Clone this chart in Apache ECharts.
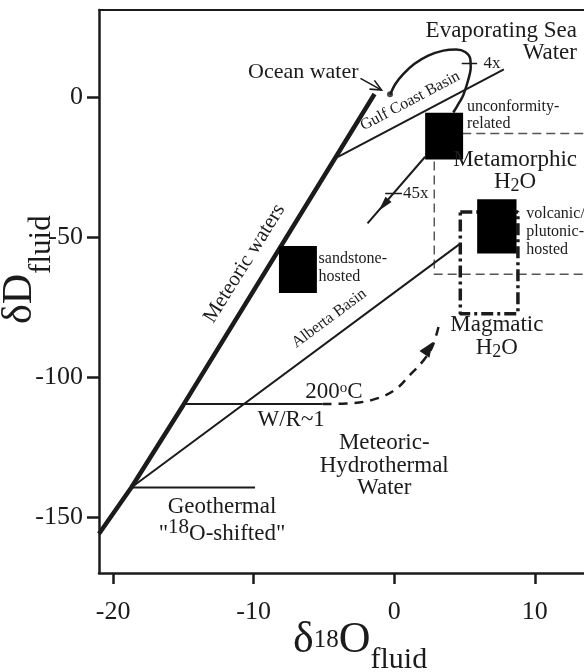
<!DOCTYPE html>
<html>
<head>
<meta charset="utf-8">
<script src="https://cdn.jsdelivr.net/npm/echarts@6/dist/echarts.min.js"></script>
<style>
  html, body { margin: 0; padding: 0; background: #fff; }
  #chart { width: 584px; height: 672px; }
</style>
</head>
<body>
<div id="chart"></div>
<script>
const ink = "#1b1b1b";
const serif = '"Liberation Serif", "DejaVu Serif", serif';

const xTicks = [-20, -10, 0, 10];
const yTicks = [-150, -100, -50, 0];

// all lines as [d18O, dD] pairs
const meteoricWaters = [[-21, -156], [-18.7, -139.5], [-15, -110], [-1.4, 1]];
const gulfCoastBasin = [[-4, -21.4], [7.8, 9.8]];
const albertaBasin = [[-18.7, -139.5], [4.7, -52.4]];
const geothermalShift = [[-18.7, -139.5], [-9.9, -139.5]];
const waterRockLine = [[-15, -109.7], [-5.1, -109.7]];
const hydrothermalTrend = [[-5.1, -109.7], [-3.4, -109.5], [-1.5, -108.1], [0, -104.8], [1.1, -99.4], [2.1, -94], [2.7, -89.3], [3.15, -82.1]];
const evaporationLoop = [[-0.28, 0.86], [0.07, 4.5], [0.64, 8.1], [1.42, 11.7], [2.42, 14.7], [3.49, 16.5], [4.41, 16.9], [5.05, 16.0], [5.41, 13.5], [5.44, 10.3], [5.26, 6.0], [4.91, 0.6], [4.48, -3.3], [4.2, -5.6]];
const oceanArrow = [[-2.4, 6.6], [-0.9, 2.4]];
const mixingArrow = [[2.2, -21.4], [-1.9, -45.2]];
const fourXMark = [[4.8, 11.9], [5.9, 11.9]];
const fortyFiveXMark = [[-0.64, -34.5], [0.55, -34.5]];
const metamorphicTop = [[2.85, -13.1], [14, -13.1]];
const metamorphicSide = [[2.85, -13.1], [2.85, -63.3], [14, -63.3]];
const magmaticBox = [[4.7, -41.1], [8.8, -41.1], [8.8, -77.4], [4.7, -77.4], [4.7, -41.1]];
const oceanWater = [[-0.3, 0.9]];
// ore fluid fields: [x0, x1, y0, y1]
const oreFields = [[2.2, 4.9, -5.7, -22.4], [5.9, 8.7, -36.6, -55.9], [-8.2, -5.5, -53.3, -70]];
// arrowheads: [tipX, tipY, tailX, tailY]
const arrowHeads = [[-0.9, 2.4, -2.4, 6.6], [-1.1, -40.7, 2.2, -21.4], [2.75, -87.5, 2.1, -92.3]];
const headSpec = [{ len: 11, half: 5, open: true }, { len: 15, half: 4 }, { len: 15, half: 6 }];

const notes = [
  { text: "Ocean water", at: [-10.4, 8.8], align: "left", size: 22 },
  { text: "Evaporating Sea\nWater", at: [13.0, 19.7], align: "right", size: 23, lh: 22 },
  { text: "4x", at: [6.35, 12], align: "left", size: 17 },
  { text: "Gulf Coast Basin", at: [1.14, -1.5], size: 16, rotate: 28 },
  { text: "unconformity-\nrelated", at: [5.17, -6.5], align: "left", size: 16, lh: 17 },
  { text: "Metamorphic\nH{sub|2}O", at: [8.6, -26.4], size: 23, lh: 22 },
  { text: "45x", at: [0.62, -34.5], align: "left", size: 17 },
  { text: "volcanic/\nplutonic-\nhosted", at: [9.39, -48.2], align: "left", size: 16, lh: 18.4 },
  { text: "sandstone-\nhosted", at: [-5.38, -61], align: "left", size: 16, lh: 18.4 },
  { text: "Meteoric waters", at: [-10.65, -59.5], size: 21, rotate: 58 },
  { text: "Alberta Basin", at: [-4.62, -79.1], size: 16, rotate: 36.6 },
  { text: "Magmatic\nH{sub|2}O", at: [7.3, -85.7], size: 23, lh: 23 },
  { text: "200{deg|o}C", at: [-6.33, -105.5], align: "left", size: 23 },
  { text: "W/R~1", at: [-7.33, -115.5], size: 23 },
  { text: "Meteoric-\nHydrothermal\nWater", at: [-0.71, -131.7], size: 23, lh: 22.5 },
  { text: 'Geothermal\n"{sup|18}O-shifted"', at: [-12.25, -151.2], size: 23, lh: 26.6 },
];

function line(data, width, extra) {
  return Object.assign({
    type: "line",
    data,
    symbol: "none",
    silent: true,
    lineStyle: { color: ink, width },
  }, extra || {});
}

function richFor(size, lh) {
  return {
    sub: { fontFamily: serif, fontSize: Math.round(size * 0.78), fill: ink, height: lh - 8, verticalAlign: "bottom" },
    sup: { fontFamily: serif, fontSize: Math.round(size * 0.9), fill: ink, height: lh - 12, verticalAlign: "top" },
    deg: { fontFamily: serif, fontSize: Math.round(size * 0.65), fill: ink, height: lh - 8, verticalAlign: "top" },
  };
}

const chart = echarts.init(document.getElementById("chart"));

chart.setOption({
  animation: false,
  backgroundColor: "#fff",
  grid: { left: 99, right: 0, top: 10, bottom: 99, outerBoundsMode: "none" },
  xAxis: [
    {
      type: "value", min: -21, max: 13.5,
      axisLine: { onZero: false, lineStyle: { color: ink, width: 2.5 } },
      axisTick: { length: 11, customValues: xTicks, lineStyle: { color: ink, width: 2.5 } },
      axisLabel: { customValues: xTicks, fontFamily: serif, fontSize: 26, color: ink, margin: 26 },
      splitLine: { show: false },
    },
    {
      type: "value", min: -21, max: 13.5, position: "top",
      axisLine: { onZero: false, lineStyle: { color: ink, width: 2 } },
      axisTick: { show: false }, axisLabel: { show: false }, splitLine: { show: false },
    },
  ],
  yAxis: {
    type: "value", min: -170, max: 31,
    axisLine: { show: true, onZero: false, lineStyle: { color: ink, width: 2.5 } },
    axisTick: { length: 12, customValues: yTicks, lineStyle: { color: ink, width: 2.5 } },
    axisLabel: { customValues: yTicks, fontFamily: serif, fontSize: 26, color: ink, margin: 16 },
    splitLine: { show: false },
  },
  series: [
    line(metamorphicTop, 1.5, { lineStyle: { color: "#555", width: 1.5, type: [9, 5] } }),
    line(metamorphicSide, 1.5, { lineStyle: { color: "#555", width: 1.5, type: [9, 5] } }),
    line(magmaticBox, 3.5, { lineStyle: { color: ink, width: 3.5, type: [12, 4, 3, 4] } }),
    line(meteoricWaters, 4.5),
    line(gulfCoastBasin, 2),
    line(albertaBasin, 2),
    line(geothermalShift, 2),
    line(waterRockLine, 2),
    line(hydrothermalTrend, 2.5, { smooth: 0.4, lineStyle: { color: ink, width: 2.5, type: [9, 7] } }),
    line(evaporationLoop, 2.5, { smooth: 0.3 }),
    line(oceanArrow, 1.6),
    line(mixingArrow, 2),
    line(fourXMark, 1.6),
    line(fortyFiveXMark, 1.6),
    {
      type: "scatter", data: oceanWater, symbol: "circle", symbolSize: 6,
      itemStyle: { color: ink }, silent: true, z: 4,
    },
    {
      type: "custom", z: 5, silent: true,
      data: oreFields,
      encode: { x: [0, 1], y: [2, 3] },
      renderItem: (params, api) => {
        const a = api.coord([api.value(0), api.value(2)]);
        const b = api.coord([api.value(1), api.value(3)]);
        return {
          type: "rect",
          shape: { x: Math.min(a[0], b[0]), y: Math.min(a[1], b[1]), width: Math.abs(b[0] - a[0]), height: Math.abs(b[1] - a[1]) },
          style: { fill: "#000" },
        };
      },
    },
    {
      type: "custom", z: 5, silent: true,
      data: arrowHeads,
      encode: { x: [0, 2], y: [1, 3] },
      renderItem: (params, api) => {
        const tip = api.coord([api.value(0), api.value(1)]);
        const tail = api.coord([api.value(2), api.value(3)]);
        const dx = tip[0] - tail[0];
        const dy = tip[1] - tail[1];
        const d = Math.hypot(dx, dy);
        const ux = dx / d, uy = dy / d;
        const spec = headSpec[params.dataIndex];
        const bx = tip[0] - ux * spec.len, by = tip[1] - uy * spec.len;
        const p1 = [bx - uy * spec.half, by + ux * spec.half];
        const p2 = [bx + uy * spec.half, by - ux * spec.half];
        if (spec.open) {
          return { type: "polyline", shape: { points: [p1, tip, p2] }, style: { stroke: ink, lineWidth: 1.6, fill: null } };
        }
        return { type: "polygon", shape: { points: [tip, p1, p2] }, style: { fill: ink } };
      },
    },
  ],
});

// text notes placed at data coordinates
const graphics = notes.map((n) => {
  const [px, py] = chart.convertToPixel({ gridIndex: 0 }, n.at);
  const lh = n.lh || Math.round(n.size * 1.2);
  return {
    type: "text", x: px, y: py, z: 10, silent: true,
    rotation: ((n.rotate || 0) * Math.PI) / 180,
    style: {
      text: n.text, fontFamily: serif, fontSize: n.size, fill: ink,
      align: n.align || "center", verticalAlign: "middle", lineHeight: lh,
      rich: richFor(n.size, lh),
    },
  };
});

// axis titles
graphics.push({
  type: "text", x: 293, y: 640, z: 10, silent: true,
  style: {
    text: "δ{sup|18}O{sub|fluid}", fontFamily: serif, fontSize: 44, lineHeight: 48, fill: ink,
    align: "left", verticalAlign: "middle",
    rich: {
      sup: { fontFamily: serif, fontSize: 25, fill: ink },
      sub: { fontFamily: serif, fontSize: 30, fill: ink, height: 8, verticalAlign: "bottom" },
    },
  },
});
graphics.push({
  type: "text", x: 20, y: 324, z: 10, silent: true, rotation: Math.PI / 2,
  style: {
    text: "δD{sub|fluid}", fontFamily: serif, fontSize: 42, lineHeight: 48, fill: ink,
    align: "left", verticalAlign: "middle",
    rich: {
      sub: { fontFamily: serif, fontSize: 31, fill: ink, height: 4, verticalAlign: "bottom" },
    },
  },
});

chart.setOption({ graphic: graphics });
</script>
</body>
</html>
